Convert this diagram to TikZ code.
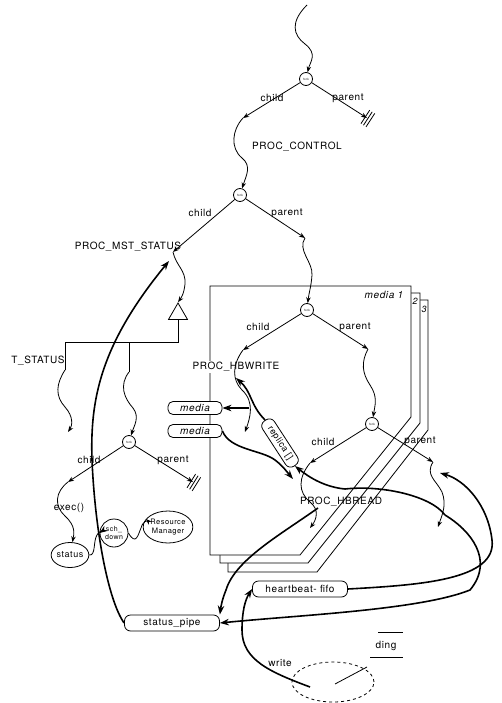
\documentclass[tikz,border=0pt]{standalone}
\usepackage{fontspec}
\setmainfont{TeX Gyre Heros}[LetterSpace=6.0]
\usetikzlibrary{arrows.meta,shapes.geometric}
\begin{document}
\begin{tikzpicture}[x=1pt,y=-1pt,
  ln/.style={line width=0.8pt},
  ar/.style={ln,-{Stealth[length=6pt,width=4.5pt]}},
  thk/.style={line width=1.6pt,-{Stealth[length=9pt,width=6.5pt]}},
  lbl/.style={inner sep=0pt,font=\fontsize{10}{12}\selectfont},
  forkn/.style={circle,draw,ln,minimum size=13pt,inner sep=0pt,font=\fontsize{3}{3.5}\selectfont},
  pipe/.style={draw,ln,rounded corners=6pt,minimum width=95pt,minimum height=16pt,inner sep=0pt,fill=white,font=\fontsize{10}{12}\selectfont},
  medbox/.style={draw,ln,rounded corners=5pt,minimum width=54pt,minimum height=13pt,inner sep=0pt,fill=white,font=\fontsize{10}{12}\selectfont\itshape},
  stackbox/.style={draw,ln,fill=white},
  term/.pic={\draw[line width=0.8pt] (-2,-8)--(-2,8) (1,-8)--(1,8) (4,-8)--(4,8);}
]
\useasboundingbox (0,0) rectangle (502,703);

% ---- media stacks
\draw[stackbox] (228,300) -- (428,300) -- (428,430) -- (317,572) -- (228,572) -- cycle;
\draw[stackbox] (220,293) -- (420,293) -- (420,423) -- (308,563) -- (220,563) -- cycle;
\draw[stackbox] (210,286) -- (411,286) -- (411,417) -- (300,555) -- (210,555) -- cycle;
\node[lbl,font=\fontsize{10}{12}\selectfont\itshape] (med1) at (384,295) {media 1};
\node[lbl,font=\fontsize{9}{10}\selectfont\itshape] (med2) at (415,301) {2};
\node[lbl,font=\fontsize{9}{10}\selectfont\itshape] (med3) at (424,309) {3};

% ---- fork nodes
\node[forkn] (f1) at (306,79) {fork};
\node[forkn] (f2) at (240,195) {fork};
\node[forkn] (fm) at (307,310) {fork};
\node[forkn] (f3) at (372,424) {fork};
\node[forkn] (f4) at (129,442) {fork};

% ---- other nodes
\node[draw,ln,regular polygon,regular polygon sides=3,minimum size=22pt,inner sep=0pt] (tri) at (178,314) {};
\node[medbox] (m1) at (195,408) {media};
\node[medbox] (m2) at (195,431) {media};
\node[draw,ln,rounded corners=6pt,rotate=-57,minimum width=54pt,minimum height=14pt,inner sep=0pt,fill=white,font=\fontsize{9}{10}\selectfont] (rep) at (280,443) {replica []};
\node[draw,ln,ellipse,minimum width=32pt,minimum height=25pt,inner sep=0pt,font=\fontsize{9}{10}\selectfont] (st) at (70,555) {status};
\node[draw,ln,circle,minimum size=28pt,inner sep=0pt,align=center,font=\fontsize{7}{7.5}\selectfont] (sch) at (114,533) {sch\_\\down};
\node[draw,ln,ellipse,minimum width=44pt,minimum height=32pt,inner sep=0pt,align=center,font=\fontsize{7.5}{8.5}\selectfont] (rm) at (168,527) {Resource\\Manager};
\node[pipe] (sp) at (172,623) {status\_pipe};
\node[pipe] (hb) at (300,589) {heartbeat- fifo};
\node[draw,ln,dashed,ellipse,minimum width=82pt,minimum height=40pt] (disk) at (333,682) {};

% ---- labels
\node[lbl] (lpc) at (297,147) {PROC\_CONTROL};
\node[lbl] (lms) at (128,247) {PROC\_MST\_STATUS};
\node[lbl] (lts) at (38,361) {T\_STATUS};
\node[lbl,fill=white,inner sep=1pt] (lhw) at (236,367) {PROC\_HBWRITE};
\node[lbl] (lhr) at (341,502) {PROC\_HBREAD};
\node[lbl] at (272,98) {child};
\node[lbl] at (348,98) {parent};
\node[lbl] at (200,213) {child};
\node[lbl] at (287,213) {parent};
\node[lbl] at (258,327) {child};
\node[lbl] at (355,327) {parent};
\node[lbl] at (323,442) {child};
\node[lbl] at (420,441) {parent};
\node[lbl] at (89,460) {child};
\node[lbl] at (173,460) {parent};
\node[lbl] at (69,508) {exec()};
\node[lbl] at (280,663) {write};
\node[lbl] (dng) at (386,646) {ding};

% ---- coordinates
\coordinate (top) at (307,5);
\coordinate (c1) at (243,118);
\coordinate (p1) at (367,118);
\coordinate (c2) at (173,252);
\coordinate (p2) at (305,238);
\coordinate (cm) at (243,350);
\coordinate (pm) at (368,349);
\coordinate (cw) at (245,432);
\coordinate (hw1) at (249,408);
\coordinate (hwa) at (236,378);
\coordinate (c3) at (310,463);
\coordinate (p3) at (433,462);
\coordinate (hr) at (310,528);
\coordinate (pr) at (438,527);
\coordinate (hbr1) at (293,479);
\coordinate (c4) at (68,482);
\coordinate (p4) at (193,482);
\coordinate (ts) at (68,432);
\coordinate (j1) at (178,342);
\coordinate (j2) at (129,342);
\coordinate (j3) at (65,342);
\coordinate (mst) at (169,261);
\coordinate (ws) at (310,687);
\coordinate (hbs) at (318,508);
\coordinate (hba) at (440,473);
\coordinate (r1s) at (445,515);

% ---- top chain
\draw[ar] (top) .. controls (290,22) and (293,35) .. (305,44) .. controls (318,54) and (310,62) .. (f1);
\draw[ar] (f1) -- (c1);
\draw[ar] (f1) -- (p1);
\pic[rotate=-33] at (p1) {term};
\draw[ar] (c1) .. controls (232,130) and (230,148) .. (242,158) .. controls (252,166) and (246,176) .. (f2);
\draw[ar] (f2) -- (c2);
\draw[ar] (f2) -- (p2);
\draw[ar] (c2) .. controls (176,266) and (186,270) .. (185,284) .. controls (184,294) and (181,298) .. (tri.north);
\draw[ln] (tri.south) -- (j1) -- (j3) -- (65,370);
\draw[ar] (65,370) .. controls (56,384) and (55,396) .. (65,407) .. controls (74,417) and (72,426) .. (ts);
\draw[ln] (j2) -- (129,372);
\draw[ar] (129,372) .. controls (119,385) and (124,398) .. (133,408) .. controls (140,417) and (134,426) .. (f4);

% ---- lus fork
\draw[ar] (f4) -- (c4);
\draw[ar] (f4) -- (p4);
\pic[rotate=-32] at (p4) {term};
\draw[ar] (c4) .. controls (55,492) and (54,506) .. (65,516) .. controls (76,526) and (74,534) .. (st);
\draw[-{Stealth[length=8pt,width=6pt]},ln] (st.east) .. controls (96,556) and (93,541) .. (97,535) .. controls (99,531) and (101,532) .. (sch.west);
\draw[ar] (sch.east) .. controls (136,546) and (138,535) .. (141,528) .. controls (143,521) and (147,520) .. (rm.160);

% ---- media branch
\draw[ar] (p2) .. controls (297,250) and (313,262) .. (312,275) .. controls (311,288) and (309,292) .. (fm);
\draw[ar] (fm) -- (cm);
\draw[ar] (fm) -- (pm);
\draw[ar] (cm) .. controls (232,365) and (232,380) .. (242,390) .. controls (255,402) and (250,418) .. (cw);
\draw[ar] (pm) .. controls (361,362) and (362,373) .. (370,385) .. controls (378,397) and (375,405) .. (f3);
\draw[ar] (f3) -- (c3);
\draw[ar] (f3) -- (p3);
\draw[ar] (c3) .. controls (298,478) and (298,492) .. (310,502) .. controls (320,510) and (316,520) .. (hr);
\draw[ar] (p3) .. controls (425,475) and (436,480) .. (442,492) .. controls (447,505) and (442,515) .. (pr);

% ---- thick data flows
\draw[thk] (hw1) -- (m1.east);
\draw[thk] (rep.west) .. controls (250,405) and (252,392) .. (hwa);
\draw[thk] (m2.east) .. controls (230,450) and (262,450) .. (275,460) .. controls (283,466) and (287,472) .. (hbr1);
\draw[thk] (r1s) .. controls (430,495) and (380,485) .. (345,489) .. controls (325,487) and (310,478) .. (rep.east);
\draw[thk] (hbs) .. controls (280,535) and (235,560) .. (226,590) .. controls (222,600) and (221,606) .. (sp.north east);
\draw[thk] (r1s) .. controls (470,530) and (495,560) .. (470,590) .. controls (420,610) and (300,615) .. (sp.east);
\draw[thk] (hb.east) .. controls (420,585) and (497,580) .. (492,540) .. controls (488,505) and (465,480) .. (hba);
\draw[thk] (sp.west) .. controls (108,600) and (95,530) .. (92,460) .. controls (90,400) and (100,345) .. (mst);
\draw[thk] (ws) .. controls (270,672) and (242,660) .. (242,630) .. controls (242,612) and (245,600) .. (hb.west);

% ---- data store
\draw[ln] (378,632) -- (403,632);
\draw[ln] (370,657) -- (403,657);
\draw[ln] (335,684) -- (367,667);
\end{tikzpicture}
\end{document}
